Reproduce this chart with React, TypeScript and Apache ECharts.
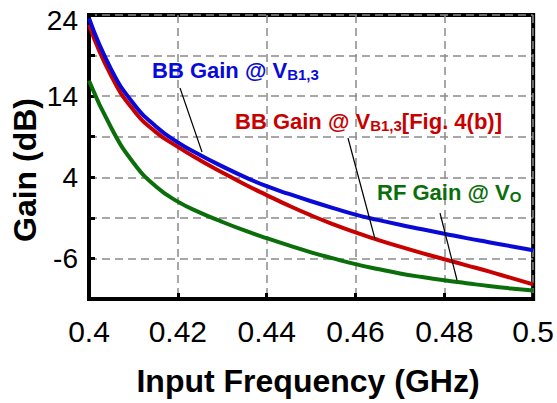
import React, { useEffect, useRef } from "react";
import * as echarts from "echarts";

const freq = [0.4, 0.405, 0.41, 0.415, 0.42, 0.425, 0.43, 0.435, 0.44, 0.445, 0.45, 0.455, 0.46, 0.465, 0.47, 0.475, 0.48, 0.485, 0.49, 0.495, 0.5];
const bbGain = [23.6, 17.3, 13.1, 10.3, 8.3, 6.75, 5.35, 4.05, 2.9, 1.95, 1.05, 0.2, -0.6, -1.25, -1.85, -2.4, -2.95, -3.5, -4.0, -4.5, -5.0];
const bbGainFig4b = [22.8, 16.5, 12.3, 9.6, 7.75, 6.1, 4.6, 3.15, 1.8, 0.5, -0.7, -1.8, -2.8, -3.7, -4.55, -5.35, -6.1, -6.85, -7.6, -8.4, -9.2];
const rfGain = [15.9, 10.1, 5.8, 2.9, 1.0, -0.35, -1.5, -2.55, -3.5, -4.4, -5.25, -6.0, -6.7, -7.3, -7.85, -8.3, -8.7, -9.05, -9.4, -9.7, -9.95];

const xTicks = [0.4, 0.42, 0.44, 0.46, 0.48, 0.5];
const yLabels = [24, 14, 4, -6];

const BLUE = "#0a0ad8";
const RED = "#c80000";
const GREEN = "#0a6e0a";
const SANS = "'Liberation Sans', Arial, sans-serif";

function pairs(ys: number[]) {
  return freq.map((f, i) => [f, ys[i]]);
}

function richLabel(main: string, sub: string, tail: string, color: string) {
  const tok = { fontSize: 22, fontWeight: "bold", fontFamily: SANS, fill: color, lineHeight: 24 };
  return {
    text: `{m|${main}}{s|${sub}}` + (tail ? `{m|${tail}}` : ""),
    rich: {
      m: tok,
      s: { fontSize: 15, fontWeight: "bold", fontFamily: SANS, fill: color, lineHeight: 14, verticalAlign: "bottom" },
    },
    align: "left",
    verticalAlign: "top",
  };
}

export default function App() {
  const ref = useRef<HTMLDivElement>(null);
  useEffect(() => {
    document.body.style.margin = "0";
    const chart = echarts.init(ref.current!, null, { renderer: "svg" });
    const lineSeries = (name: string, ys: number[], color: string) => ({
      name,
      type: "line",
      data: pairs(ys),
      smooth: 0.5,
      symbol: "none",
      lineStyle: { color, width: 4 },
      z: 3,
    });
    chart.setOption({
      animation: false,
      grid: { left: 89, top: 15, right: 20, bottom: 104, show: true, borderColor: "#000", borderWidth: 4, containLabel: false },
      xAxis: {
        type: "value",
        min: 0.4,
        max: 0.5,
        interval: 0.02,
        axisLine: { show: true, onZero: false, lineStyle: { color: "#000", width: 4 } },
        axisTick: { show: true, inside: true, length: 6, lineStyle: { color: "#000", width: 3 } },
        splitLine: { show: true, lineStyle: { color: "#8a8a8a", width: 1.5, type: [8, 5] } },
        axisLabel: {
          margin: 17,
          fontSize: 30,
          fontFamily: SANS,
          color: "#000",
          formatter: (v: number) => {
            const t = xTicks.find((x) => Math.abs(x - v) < 1e-6);
            return t === undefined ? "" : String(t);
          },
        },
      },
      yAxis: {
        type: "value",
        min: -11,
        max: 24,
        interval: 5,
        axisLine: { show: true, onZero: false, lineStyle: { color: "#000", width: 4 } },
        axisTick: { show: true, inside: true, length: 6, lineStyle: { color: "#000", width: 3 } },
        splitLine: { show: true, lineStyle: { color: "#8a8a8a", width: 1.5, type: [8, 5] } },
        axisLabel: {
          margin: 11,
          fontSize: 28,
          fontFamily: SANS,
          color: "#000",
          formatter: (v: number) => {
            const r = Math.round(v);
            if (!yLabels.includes(r)) return "";
            return r === 24 ? `{t|${r}}` : String(r);
          },
          rich: { t: { fontSize: 28, fontFamily: SANS, color: "#000", padding: [10, 0, 0, 0] } },
        },
      },
      series: [
        lineSeries("RF Gain @ VO", rfGain, GREEN),
        lineSeries("BB Gain @ VB1,3 [Fig. 4(b)]", bbGainFig4b, RED),
        lineSeries("BB Gain @ VB1,3", bbGain, BLUE),
      ],
      graphic: [
        {
          type: "text",
          x: 25,
          y: 170,
          rotation: Math.PI / 2,
          style: { text: "Gain (dB)", fontSize: 32, fontWeight: "bold", fontFamily: SANS, fill: "#000", align: "center", verticalAlign: "middle" },
        },
        {
          type: "text",
          x: 308,
          y: 381,
          style: { text: "Input Frequency (GHz)", fontSize: 32, fontWeight: "bold", fontFamily: SANS, fill: "#000", align: "center", verticalAlign: "middle" },
        },
        { type: "text", x: 152, y: 58, z: 10, style: richLabel("BB Gain @ V", "B1,3", "", BLUE) },
        { type: "text", x: 235, y: 109, z: 10, style: richLabel("BB Gain @ V", "B1,3", "[Fig. 4(b)]", RED) },
        { type: "text", x: 377, y: 180, z: 10, style: richLabel("RF Gain @ V", "O", "", GREEN) },
        { type: "line", z: 10, shape: { x1: 180, y1: 88, x2: 202, y2: 152 }, style: { stroke: "#000", lineWidth: 1.2 } },
        { type: "line", z: 10, shape: { x1: 348, y1: 138, x2: 375, y2: 239 }, style: { stroke: "#000", lineWidth: 1.2 } },
        { type: "line", z: 10, shape: { x1: 440, y1: 213, x2: 457, y2: 280 }, style: { stroke: "#000", lineWidth: 1.2 } },
      ],
    });
    return () => chart.dispose();
  }, []);
  return <div ref={ref} style={{ width: 557, height: 403 }} />;
}
